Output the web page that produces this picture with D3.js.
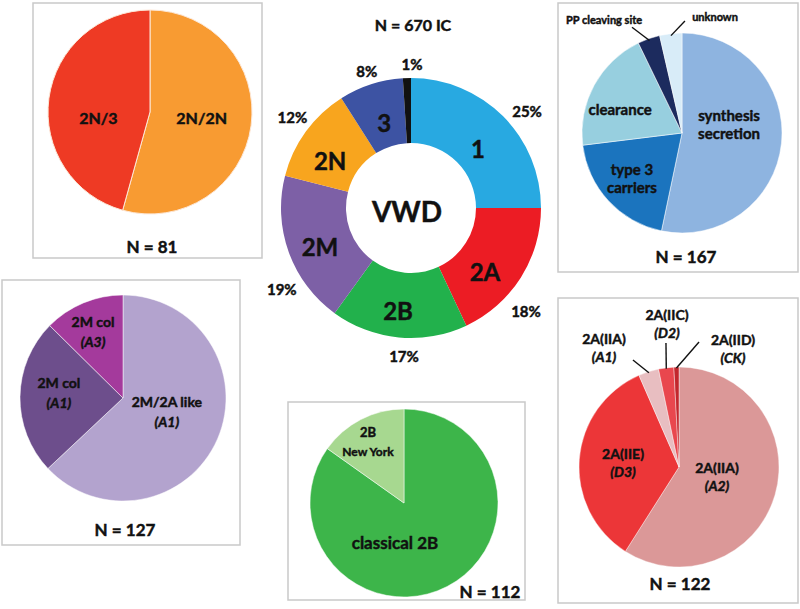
<!DOCTYPE html>
<html><head><meta charset="utf-8">
<script src="https://cdn.jsdelivr.net/npm/d3@7"></script>
<style>
html,body{margin:0;padding:0;background:#fff;}
text{font-family:Lato,"Open Sans",sans-serif;font-weight:bold;fill:#111;stroke:#111;stroke-width:0.45px;}
</style></head>
<body>
<svg id="chart" width="800" height="609"></svg>
<script>
// ---------------- data ----------------
const donutCategories = ["1","2A","2B","2M","2N","3","other"];
const donutValues     = [25, 18, 17, 19, 12, 8, 1];
const donutPctLabels  = ["25%","18%","17%","19%","12%","8%","1%"];
const donutTitle      = "N = 670 IC";

const n2Categories = ["2N/2N","2N/3"];
const n2Values     = [44, 37];

const t3Categories = ["synthesis|secretion","type 3|carriers","clearance","PP cleaving site","unknown"];
const t3Values     = [89, 33, 33, 6, 6];

const m2Categories = ["2M/2A like|(A1)","2M col|(A1)","2M col|(A3)"];
const m2Values     = [80, 31, 16];

const b2Categories = ["classical 2B","2B|New York"];
const b2Values     = [95, 17];

const a2Categories = ["2A(IIA)|(A2)","2A(IIE)|(D3)","2A(IIA)|(A1)","2A(IIC)|(D2)","2A(IID)|(CK)"];
const a2Values     = [72, 42, 4, 3, 1];

// ---------------- layout / style ----------------
const svg = d3.select("#chart");
const rad = d => d * Math.PI / 180;
function polar(cx, cy, ang, r){ return [cx + r*Math.sin(rad(ang)), cy - r*Math.cos(rad(ang))]; }

// panel boxes
const boxes = [[33,3,262,258],[558,3,798,272],[2,280,240,545],[288,402,525,600],[558,298,798,603]];
svg.selectAll("rect.box").data(boxes).join("rect")
  .attr("x", d=>d[0]).attr("y", d=>d[1]).attr("width", d=>d[2]-d[0]).attr("height", d=>d[3]-d[1])
  .attr("fill","none").attr("stroke","#c9c9c9").attr("stroke-width",1.5);

function multiLine(g, x, y, label, size, lh, italic2, size2){
  const parts = label.split("|");
  const t = g.append("text").attr("text-anchor","middle").attr("x",x).attr("y",y)
    .style("font-size", size+"px");
  const y0 = -(parts.length-1)*lh/2;
  parts.forEach((p,i)=>{
    t.append("tspan").attr("x",x).attr("y", y + y0 + i*lh).attr("dy","0.35em").text(p)
      .style("font-style", (i>0 && italic2 && p.startsWith("(")) ? "italic" : "normal")
      .style("font-size", (i>0 && size2) ? size2+"px" : size+"px");
  });
  return t;
}

function drawPie(cfg){
  const g = svg.append("g");
  const pie = d3.pie().sort(null).value(d=>d)(cfg.values);
  const arc = d3.arc().innerRadius(cfg.inner||0).outerRadius(cfg.r);
  g.append("g").attr("transform",`translate(${cfg.cx},${cfg.cy})`)
    .selectAll("path").data(pie).join("path")
    .attr("d", arc).attr("fill",(d,i)=>cfg.colors[i])
    .attr("stroke", cfg.stroke||"none").attr("stroke-width", cfg.strokeW||0);
  cfg.labels.forEach((lab,i)=>{
    if(!lab) return;
    const lp = cfg.labelPos[i];
    const [x,y] = polar(cfg.cx, cfg.cy, lp[0], lp[1]);
    multiLine(g, x, y, lab, cfg.fontSizes[i], cfg.lineH||18, true, cfg.size2 ? cfg.size2[i] : null);
  });
  (cfg.leaders||[]).forEach(ld=>{
    if(!ld) return;
    const d = pie[ld.i];
    const mid = (d.startAngle + d.endAngle)/2 * 180/Math.PI;
    const [x1,y1] = polar(cfg.cx, cfg.cy, ld.from[0], ld.from[1]);
    const [x2,y2] = polar(cfg.cx, cfg.cy, mid, cfg.r*ld.to);
    g.append("line").attr("x1",x1).attr("y1",y1).attr("x2",x2).attr("y2",y2)
      .attr("stroke","#111").attr("stroke-width",1.4);
  });
  if(cfg.n){
    g.append("text").attr("x",cfg.n[0]).attr("y",cfg.n[1]).attr("dy","0.35em")
      .attr("text-anchor","middle").style("font-size","17px")
      .text("N = " + d3.sum(cfg.values));
  }
  return {g, pie};
}

// ---- top-left: 2N ----
drawPie({cx:150, cy:112, r:102, values:n2Values,
  colors:["#F89B32","#EE3A24"], stroke:"#fde7d6", strokeW:1,
  labels:n2Categories, labelPos:[[96.6,52],[263.4,52]], fontSizes:[16,16], n:[152,247]});

// ---- top-right: type 3 ----
drawPie({cx:682, cy:133, r:100, values:t3Values,
  colors:["#8EB4E0","#1B74BE","#97CFDF","#1C2B5E","#D8ECF8"], stroke:"#fff", strokeW:0.5,
  labels:t3Categories,
  labelPos:[[80.3,47.7],[227.4,68],[290.4,66],[325.4,137.3],[15.9,120.6]],
  fontSizes:[15,15,15,11,11], lineH:18,
  leaders:[null,null,null,{i:3,from:[334.7,117],to:0.98},{i:4,from:[1.5,112],to:0.98}],
  n:[686,257]});

// ---- bottom-left: 2M ----
drawPie({cx:123, cy:398, r:103, values:m2Values,
  colors:["#B3A3CE","#6D4E8C","#A43A9C"], stroke:"#fff", strokeW:0.5,
  labels:m2Categories,
  labelPos:[[107.6,46],[274.6,64.3],[335.6,72.5]],
  fontSizes:[14,14,14], lineH:20, n:[125,530]});

// ---- bottom-center: 2B ----
drawPie({cx:404, cy:503, r:94, values:b2Values,
  colors:["#3DB54A","#A7D890"], stroke:"#fff", strokeW:0.5,
  labels:b2Categories,
  labelPos:[[192.7,41],[329.4,70.8]],
  fontSizes:[17,13], size2:[17,12], lineH:19, n:[490,592]});

// ---- bottom-right: 2A ----
drawPie({cx:679, cy:467, r:100, values:a2Values,
  colors:["#DB9898","#EC3638","#E8BEC1","#E9474E","#C2272D"], stroke:"#fff", strokeW:0.4,
  labels:a2Categories,
  labelPos:[[104.7,39.3],[274.1,56.1],[327.8,140.7],[355.2,143.5],[24.6,129.8]],
  fontSizes:[14,14,14,14,14], lineH:18,
  leaders:[null,null,{i:2,from:[336.7,116.5],to:0.99},{i:3,from:[354,124.7],to:0.99},{i:4,from:[9.1,126.6],to:0.99}],
  n:[680,584]});

// ---- center donut ----
const dcx = 411, dcy = 208;
const donut = drawPie({cx:dcx, cy:dcy, r:130, inner:65, values:donutValues,
  colors:["#28A9E1","#EC1C24","#22B14C","#7D60A6","#F8A51E","#3D53A3","#111111"],
  labels:donutCategories.map(c=>c==="other"?"":c),
  labelPos:[[49.1,88.6],[131.3,98.5],[187.1,104.8],[246.3,99.4],[299.6,93],[342.4,89],[0,0]],
  fontSizes:[24,24,24,24,24,24,24]});
const pctPos = [[50.4,150.6],[132.1,155],[182.7,149],[237.6,153],[307.2,148.8],[342,143],[0.4,143]];
donutPctLabels.forEach((p,i)=>{
  const [x,y] = polar(dcx, dcy, pctPos[i][0], pctPos[i][1]);
  svg.append("text").attr("x",x).attr("y",y).attr("dy","0.35em").attr("text-anchor","middle")
    .style("font-size","15px").text(p);
});
svg.append("text").attr("x",dcx-4).attr("y",dcy+4).attr("dy","0.35em").attr("text-anchor","middle")
  .style("font-size","28px").text("VWD");
svg.append("text").attr("x",413).attr("y",25).attr("dy","0.35em").attr("text-anchor","middle")
  .style("font-size","16px").text(donutTitle);
</script>
</body></html>
